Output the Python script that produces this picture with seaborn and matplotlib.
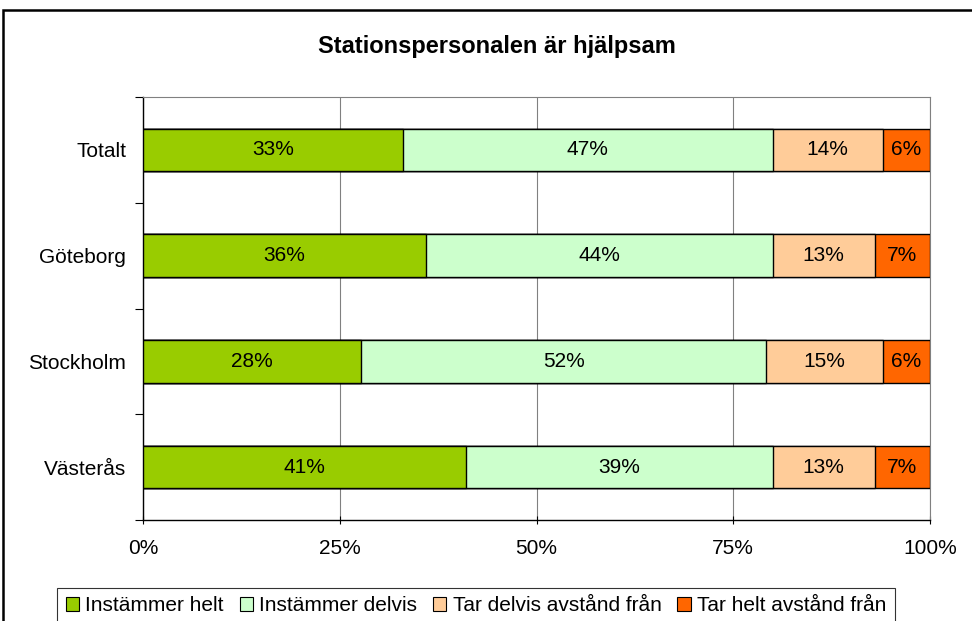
import matplotlib
matplotlib.use("Agg")
import matplotlib.pyplot as plt
from matplotlib.patches import Patch, Rectangle
from matplotlib.ticker import FixedLocator
import numpy as np
import pandas as pd
import seaborn as sns

# Survey answers per location (percent)
categories = ["Totalt", "Göteborg", "Stockholm", "Västerås"]
instammer_helt = [33, 36, 28, 41]
instammer_delvis = [47, 44, 52, 39]
tar_delvis_avstand = [14, 13, 15, 13]
tar_helt_avstand = [6, 7, 6, 7]

series_names = ["Instämmer helt", "Instämmer delvis",
                "Tar delvis avstånd från", "Tar helt avstånd från"]
colors = ["#99CC00", "#CCFFCC", "#FFCC99", "#FF6600"]
x_ticks = [0, 25, 50, 75, 100]
x_tick_labels = ["0%", "25%", "50%", "75%", "100%"]

sns.set_theme(style="white")
plt.rcParams["font.family"] = ["Liberation Sans", "DejaVu Sans"]
plt.rcParams.update({"text.color": "black", "xtick.color": "black",
                     "ytick.color": "black", "axes.labelcolor": "black"})

W, H = 972, 621
fig = plt.figure(figsize=(W / 100, H / 100), dpi=100)
fig.patch.set_facecolor("white")

# Chart-area border (left and top visible)
fig.add_artist(Rectangle((3 / W, -0.2), 1.5, 1.2 - 10 / H,
                         transform=fig.transFigure, fill=False,
                         edgecolor="black", linewidth=1.8, zorder=0))

ax = fig.add_axes([143 / W, 1 - 520 / H, (930 - 143) / W, (520 - 97) / H])

# 100 % stacked: normalise each row by its total
raw = np.array([instammer_helt, instammer_delvis, tar_delvis_avstand, tar_helt_avstand], dtype=float)
share = raw / raw.sum(axis=0) * 100
cum = np.cumsum(share, axis=0)

df = pd.DataFrame({"Ort": categories})
for i, name in enumerate(series_names):
    df[name] = cum[i]

# draw back to front so each segment shows its own span
for i in range(len(series_names) - 1, -1, -1):
    sns.barplot(data=df, y="Ort", x=series_names[i], orient="h",
                color=colors[i], saturation=1, width=0.4,
                edgecolor="black", linewidth=1.0, ax=ax, zorder=3)

FS = 15

# value labels centred in every segment
for i in range(len(series_names)):
    for j in range(len(categories)):
        start = cum[i, j] - share[i, j]
        ax.text(start + share[i, j] / 2, j, f"{raw[i, j]:.0f}%",
                ha="center", va="center", fontsize=FS, color="black", zorder=5)

ax.set_xlim(0, 100)
ax.set_ylim(len(categories) - 0.5, -0.5)
ax.set_xlabel("")
ax.set_ylabel("")

ax.set_xticks(x_ticks)
ax.set_xticklabels(x_tick_labels, fontsize=FS)
ax.xaxis.grid(True, color="#808080", linewidth=0.8)
ax.set_axisbelow(True)
ax.tick_params(axis="x", which="major", direction="inout", length=6,
               width=0.8, color="black", labelcolor="black", pad=11, bottom=True)

ax.tick_params(axis="y", which="major", length=0, pad=12, labelsize=FS,
               labelcolor="black")
ax.yaxis.set_minor_locator(FixedLocator(np.arange(-0.5, len(categories), 1.0)))
ax.tick_params(axis="y", which="minor", direction="out", length=6,
               width=0.8, color="black", left=True)

for side in ("left", "bottom"):
    ax.spines[side].set_color("black")
    ax.spines[side].set_linewidth(1.0)
for side in ("top", "right"):
    ax.spines[side].set_color("#808080")
    ax.spines[side].set_linewidth(0.8)

fig.text(497 / W, 1 - 47 / H, "Stationspersonalen är hjälpsam",
         ha="center", va="center", fontsize=17, fontweight="bold", color="black")

handles = [Patch(facecolor=c, edgecolor="black", linewidth=0.8) for c in colors]
leg = fig.legend(handles, series_names, loc="upper center",
                 bbox_to_anchor=(476 / W, 1 - 588 / H), ncol=4,
                 fontsize=FS, frameon=True, fancybox=False,
                 handlelength=0.65, handleheight=0.65, handletextpad=0.3,
                 columnspacing=0.75, borderpad=0.4, borderaxespad=0)
leg.get_frame().set_edgecolor("black")
leg.get_frame().set_linewidth(0.8)
for t in leg.get_texts():
    t.set_color("black")

fig.savefig("out.png", dpi=100, facecolor="white")
